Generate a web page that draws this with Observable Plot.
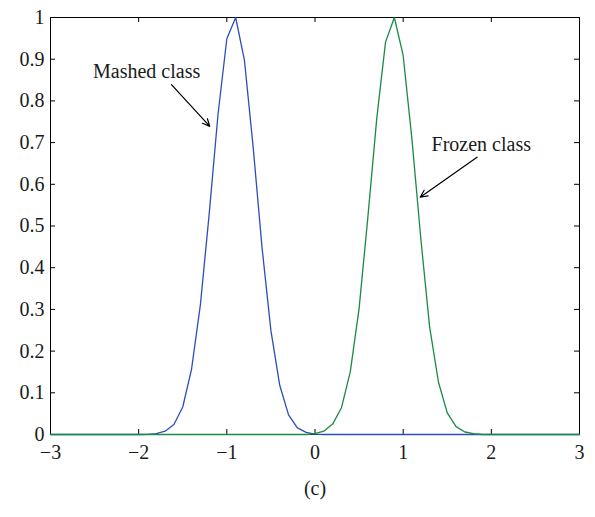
<!DOCTYPE html>
<html><head><meta charset="utf-8">
<script src="https://cdn.jsdelivr.net/npm/d3@7"></script>
<script src="https://cdn.jsdelivr.net/npm/@observablehq/plot@0.6"></script>
<style>html,body{margin:0;padding:0;background:#fff} svg{display:block}</style>
</head><body><div id="chart"></div>
<script>
const xs = [-3.0,-2.9,-2.8,-2.7,-2.6,-2.5,-2.4,-2.3,-2.2,-2.1,
            -2.0,-1.9,-1.8,-1.7,-1.6,-1.5,-1.4,-1.3,-1.2,-1.1,
            -1.0,-0.9,-0.8,-0.7,-0.6,-0.5,-0.4,-0.3,-0.2,-0.1,
             0.0, 0.1, 0.2, 0.3, 0.4, 0.5, 0.6, 0.7, 0.8, 0.9,
             1.0, 1.1, 1.2, 1.3, 1.4, 1.5, 1.6, 1.7, 1.8, 1.9,
             2.0, 2.1, 2.2, 2.3, 2.4, 2.5, 2.6, 2.7, 2.8, 2.9, 3.0];
const mashed = [0,0,0,0,0,0,0,0,0,0,
                0,0.0004,0.002,0.008,0.024,0.066,0.157,0.311,0.529,0.768,
                0.949,1.0,0.897,0.686,0.447,0.249,0.118,0.047,0.016,0.005,
                0.001,0,0,0,0,0,0,0,0,0,
                0,0,0,0,0,0,0,0,0,0,
                0,0,0,0,0,0,0,0,0,0,0];
const frozen = [0,0,0,0,0,0,0,0,0,0,
                0,0,0,0,0,0,0,0,0,0,
                0,0,0,0,0,0,0,0,0,0,
                0.002,0.008,0.025,0.064,0.150,0.302,0.522,0.757,0.941,1.0,
                0.909,0.707,0.470,0.258,0.126,0.052,0.019,0.006,0.002,0,
                0,0,0,0,0,0,0,0,0,0,0];
const xTicks = [-3,-2,-1,0,1,2,3];
const yTicks = [0,0.1,0.2,0.3,0.4,0.5,0.6,0.7,0.8,0.9,1];
const labels = [
  {text:"Mashed class", x:-1.91, y:0.870},
  {text:"Frozen class", x:1.886, y:0.695}
];
const arrows = [
  {x1:-1.628, y1:0.839, x2:-1.193, y2:0.739},
  {x1:1.838, y1:0.665, x2:1.193, y2:0.569}
];
const caption = "(c)";

const rows = xs.map((x, i) => ({x, m: mashed[i], f: frozen[i]}));
const fmt = d => String(d).replace("-", "\u2212");

const plot = Plot.plot({
  width: 595, height: 517,
  marginLeft: 50, marginRight: 16, marginTop: 17, marginBottom: 83,
  style: {fontFamily: "'Liberation Serif', 'Times New Roman', serif", fontSize: "20px", color: "#1a1a1a", background: "#fff"},
  x: {domain: [-3, 3], label: null},
  y: {domain: [0, 1], label: null},
  marks: [
    Plot.frame({stroke: "#000", strokeWidth: 1}),
    Plot.tickX(xTicks, {x: d => d, insetTop: 412, stroke: "#000"}),
    Plot.tickX(xTicks, {x: d => d, insetBottom: 412, stroke: "#000"}),
    Plot.tickY(yTicks, {y: d => d, insetRight: 524, stroke: "#000"}),
    Plot.tickY(yTicks, {y: d => d, insetLeft: 524, stroke: "#000"}),
    Plot.lineY(rows, {x: "x", y: "m", stroke: "#2b4fb8", strokeWidth: 1.3}),
    Plot.lineY(rows, {x: "x", y: "f", stroke: "#1b8a45", strokeWidth: 1.3}),
    Plot.axisX(xTicks, {tickSize: 0, tickPadding: 10, tickFormat: fmt, fontSize: 20}),
    Plot.axisY(yTicks, {tickSize: 0, tickPadding: 6, tickFormat: d => String(d), fontSize: 20}),
    Plot.arrow(arrows, {x1: "x1", y1: "y1", x2: "x2", y2: "y2", bend: 0, headLength: 10, headAngle: 50, stroke: "#000", strokeWidth: 1.2}),
    Plot.text(labels, {x: "x", y: "y", text: "text", fontSize: 20, fill: "#1a1a1a"}),
    Plot.text([caption], {text: d => d, frameAnchor: "bottom", dy: 60, fontSize: 20, fill: "#1a1a1a"})
  ]
});
document.getElementById("chart").appendChild(plot);
</script>
</body></html>
